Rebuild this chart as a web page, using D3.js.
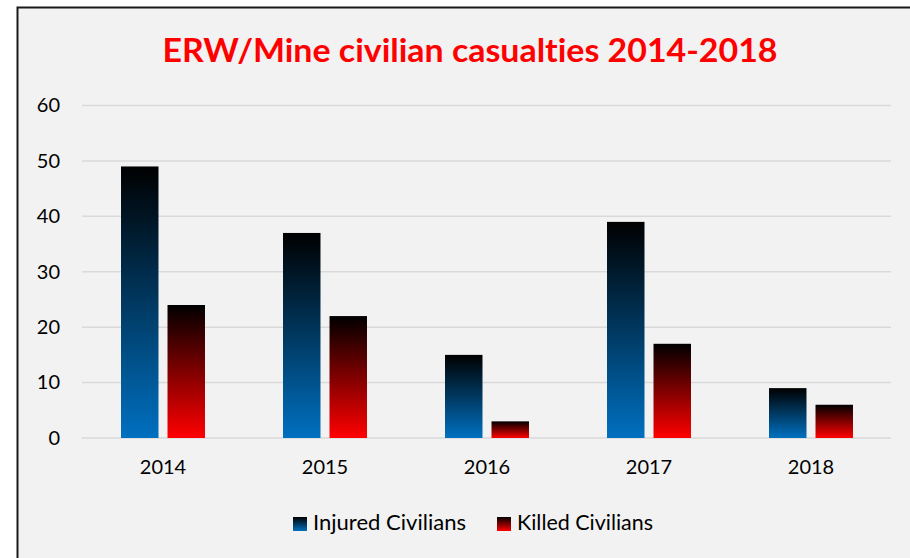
<!DOCTYPE html>
<html>
<head>
<meta charset="utf-8">
<script src="https://cdn.jsdelivr.net/npm/d3@7"></script>
<style>
  body { margin: 0; background: #fff; }
  text { font-family: Lato, "Open Sans", sans-serif; font-variant-ligatures: none; }
</style>
</head>
<body>
<svg id="chart"></svg>
<script>
// chart data
const years = ["2014", "2015", "2016", "2017", "2018"];
const injured = [49, 37, 15, 39, 9];
const killed = [24, 22, 3, 17, 6];
const seriesNames = ["Injured Civilians", "Killed Civilians"];
const yTicks = [0, 10, 20, 30, 40, 50, 60];

const W = 910, H = 558;
const svg = d3.select("#chart").attr("width", W).attr("height", H);

// gradients: black at top fading into the series colour at the bottom
const defs = svg.append("defs");
const gradColors = { injured: "#0070C0", killed: "#FF0000" };
Object.entries(gradColors).forEach(([key, col]) => {
  const g = defs.append("linearGradient")
    .attr("id", "grad-" + key)
    .attr("x1", 0).attr("y1", 0).attr("x2", 0).attr("y2", 1);
  g.append("stop").attr("offset", "0%").attr("stop-color", "#000");
  g.append("stop").attr("offset", "100%").attr("stop-color", col);
});

// chart area background + border
svg.append("rect")
  .attr("x", 17.5).attr("y", 7.5)
  .attr("width", W).attr("height", H)
  .attr("fill", "#F2F2F2")
  .attr("stroke", "#1a1a1a")
  .attr("stroke-width", 2);

// title
svg.append("text")
  .attr("x", 470).attr("y", 62)
  .attr("text-anchor", "middle")
  .attr("fill", "#FF0000")
  .style("font-size", "32px")
  .style("font-weight", "bold")
  .attr("textLength", 615)
  .attr("lengthAdjust", "spacingAndGlyphs")
  .text("ERW/Mine civilian casualties 2014-2018");

// scales
const x = d3.scaleBand().domain(years).range([82, 892]).padding(0);
const x1 = d3.scaleBand().domain(["injured", "killed"])
  .range([0, x.bandwidth()]).paddingInner(0.194).paddingOuter(0.839);
const y = d3.scaleLinear().domain([0, 60]).range([438, 105.5]);

// gridlines
svg.append("g")
  .selectAll("line")
  .data(yTicks)
  .enter()
  .append("line")
  .attr("x1", 82).attr("x2", 891)
  .attr("y1", d => y(d)).attr("y2", d => y(d))
  .attr("stroke", "#D9D9D9")
  .attr("stroke-width", 1.5);

// y axis labels
const yAxis = svg.append("g")
  .attr("transform", "translate(66,0)")
  .call(d3.axisLeft(y).tickValues(yTicks).tickSize(0).tickPadding(6));
yAxis.select(".domain").remove();
yAxis.selectAll("text")
  .style("font-size", "20px")
  .style("font-family", "Lato, sans-serif")
  .attr("fill", "#000");

// x axis labels
const xAxis = svg.append("g")
  .attr("transform", "translate(0,438)")
  .call(d3.axisBottom(x).tickSize(0).tickPadding(22));
xAxis.select(".domain").remove();
xAxis.selectAll("text")
  .style("font-size", "20px")
  .style("font-family", "Lato, sans-serif")
  .attr("fill", "#000");

// bars
const rows = years.map((yr, i) => ({ year: yr, injured: injured[i], killed: killed[i] }));
const groups = svg.selectAll(".grp")
  .data(rows)
  .enter()
  .append("g")
  .attr("class", "grp")
  .attr("transform", d => `translate(${x(d.year)},0)`);

groups.selectAll("rect")
  .data(d => ["injured", "killed"].map(k => ({ key: k, value: d[k] })))
  .enter()
  .append("rect")
  .attr("x", d => x1(d.key))
  .attr("width", x1.bandwidth())
  .attr("y", d => y(d.value))
  .attr("height", d => y(0) - y(d.value))
  .attr("fill", d => `url(#grad-${d.key})`);

// legend
const legendItems = [
  { key: "injured", label: seriesNames[0], x: 293, w: 153 },
  { key: "killed", label: seriesNames[1], x: 497, w: 136 }
];
const legend = svg.append("g");
legendItems.forEach(it => {
  legend.append("rect")
    .attr("x", it.x).attr("y", 517)
    .attr("width", 14).attr("height", 14)
    .attr("fill", `url(#grad-${it.key})`);
  legend.append("text")
    .attr("x", it.x + 20).attr("y", 530)
    .style("font-size", "21px")
    .attr("textLength", it.w)
    .attr("lengthAdjust", "spacingAndGlyphs")
    .attr("fill", "#000")
    .text(it.label);
});
</script>
</body>
</html>
